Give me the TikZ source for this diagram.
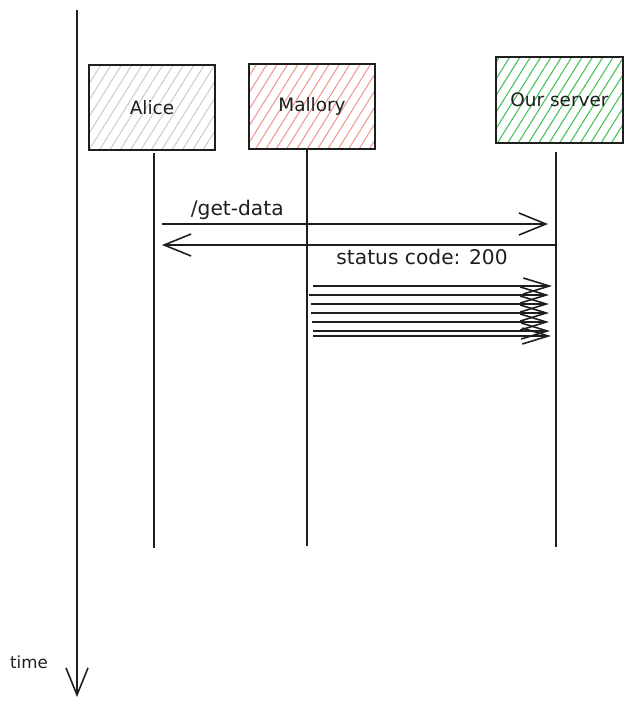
\documentclass[tikz,border=0pt]{standalone}
\usepackage{fontspec}
\setmainfont{DejaVu Sans}
\definecolor{ink}{HTML}{1E1E1E}
\definecolor{alicegrey}{HTML}{C9CDD6}
\definecolor{mallred}{HTML}{EC9A90}
\definecolor{servgreen}{HTML}{40C057}
\usetikzlibrary{arrows.meta, patterns.meta}
\tikzset{
  actor/.style={draw=ink, line width=1pt, minimum width=2.52cm, minimum height=1.7cm,
                font=\fontsize{10.5}{12}\selectfont, text=ink},
  hatch/.style={pattern={Lines[angle=58,distance=5pt,line width=0.6pt]}, pattern color=#1},
  life/.style={ink, line width=0.9pt},
  msg/.style={-{Straight Barb[length=5.4mm,width=4.4mm,line width=0.9pt]}, line width=0.9pt, ink},
  spam/.style={-{Straight Barb[length=5.2mm,width=3.2mm,line width=0.9pt]}, line width=0.9pt, ink},
  lbl/.style={font=\fontsize{11.5}{13}\selectfont, text=ink, inner sep=2pt},
}
\begin{document}
\begin{tikzpicture}[x=0.02cm,y=-0.02cm]
  \useasboundingbox (0,0) rectangle (632,707);
  % time axis
  \coordinate (t0) at (77,10);
  \coordinate (t1) at (77,697);
  \draw[msg] (t0) -- (t1);
  \node[lbl, font=\fontsize{9.5}{11}\selectfont] (time) at (29,662) {time};
  % actors
  \node[actor, hatch=alicegrey] (alice) at (152,107.5) {Alice};
  \node[actor, hatch=mallred] (mallory) at (312,106.5) {Mallory};
  \node[actor, hatch=servgreen, minimum width=2.54cm, minimum height=1.72cm] (server) at (559.5,100) {Our server};
  % lifelines
  \coordinate (aliceTop) at (154,153); \coordinate (aliceBot) at (154,548);
  \coordinate (malTop) at (307,150);   \coordinate (malBot) at (307,546);
  \coordinate (srvTop) at (556,152);   \coordinate (srvBot) at (556,547);
  \draw[life] (aliceTop) -- (aliceBot);
  \draw[life] (malTop) -- (malBot);
  \draw[life] (srvTop) -- (srvBot);
  % request and response
  \coordinate (req0) at (162,224); \coordinate (req1) at (548,224);
  \coordinate (resp0) at (556,245); \coordinate (resp1) at (162,245);
  \draw[msg] (req0) -- node[lbl, above, pos=0.195] (reqlbl) {/get-data} (req1);
  \draw[msg] (resp0) -- node[lbl, below, pos=0.34] (resplbl) {status code: 200} (resp1);
  % flood of requests
  \foreach \y/\xa/\xb [count=\i] in {286/313/552, 295/309/549, 304/311/549, 313/311/549,
                                     322/312/549, 331/313/550, 336/313/551} {
    \coordinate (f\i a) at (\xa,\y);
    \coordinate (f\i b) at (\xb,\y);
    \draw[spam] (f\i a) -- (f\i b);
  }
\end{tikzpicture}
\end{document}
